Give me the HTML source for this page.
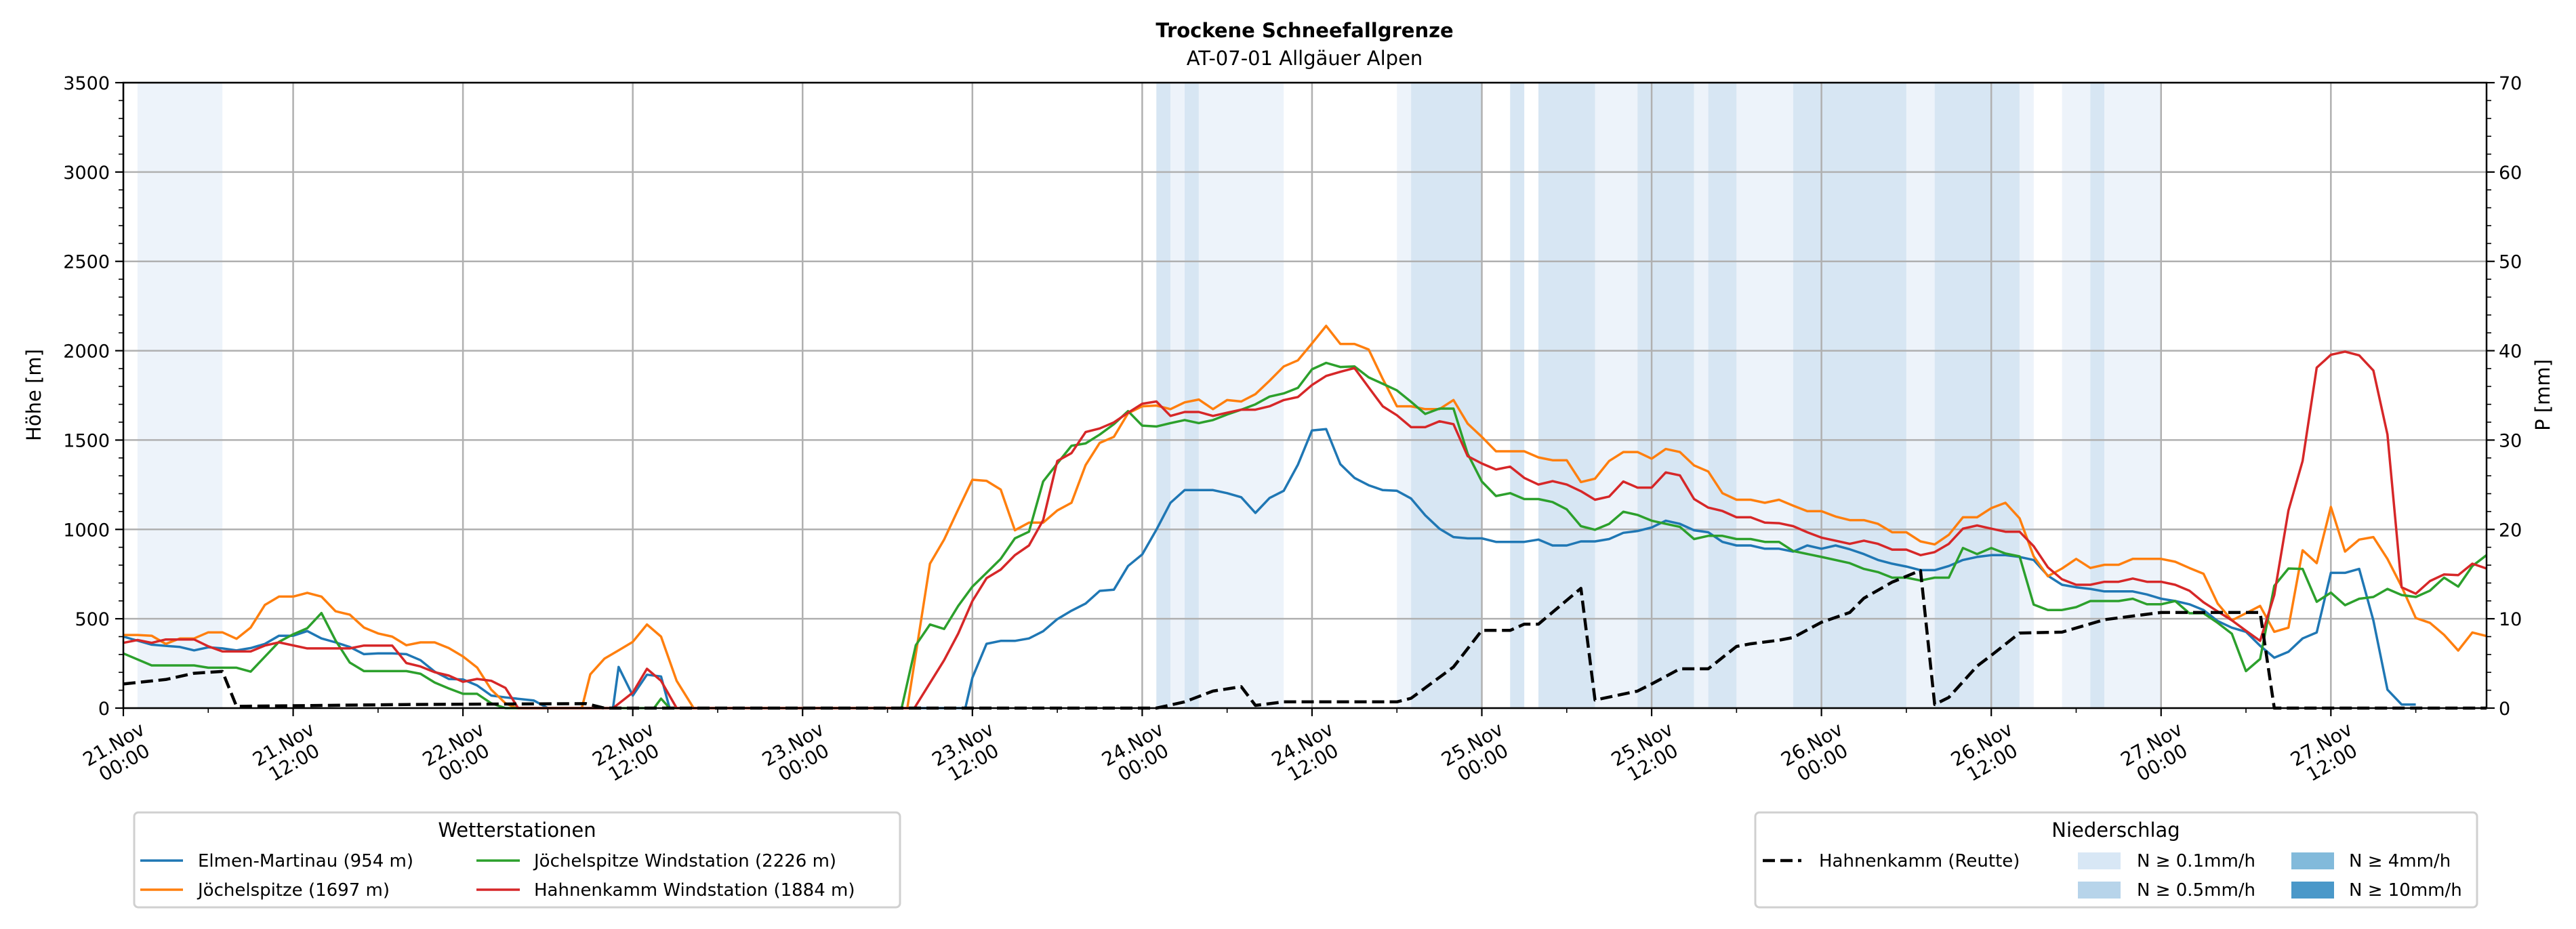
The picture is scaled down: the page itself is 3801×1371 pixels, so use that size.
<!DOCTYPE html>
<html><head><meta charset="utf-8"><style>
html,body{margin:0;padding:0;background:#fff;}
svg{display:block;font-family:"DejaVu Sans","Liberation Sans",sans-serif;}
</style></head><body>
<svg id="chart" xmlns="http://www.w3.org/2000/svg" width="3801" height="1371" viewBox="0 0 3801 1371">
<rect width="3801" height="1371" fill="#fff"/>
<text x="1925" y="55" text-anchor="middle" font-size="29" font-weight="bold">Trockene Schneefallgrenze</text>
<text x="1925" y="96" text-anchor="middle" font-size="29">AT-07-01 Allgäuer Alpen</text>
<g id="bands"></g>
<g id="grid"></g>
<g id="series"></g>
<rect x="182" y="122" width="3487" height="923" fill="none" stroke="#000" stroke-width="2.5"/>
<g id="axes"></g>
<text transform="translate(60,583) rotate(-90)" text-anchor="middle" font-size="29">Höhe [m]</text>
<text transform="translate(3762,583) rotate(-90)" text-anchor="middle" font-size="29">P [mm]</text>

<g>
<rect x="198" y="1199" width="1130" height="140" rx="6" fill="#fff" stroke="#d0d0d0" stroke-width="3"/>
<text x="763" y="1235" text-anchor="middle" font-size="29">Wetterstationen</text>
<line x1="207" y1="1270" x2="270" y2="1270" stroke="#1f77b4" stroke-width="3.5"/>
<text x="292" y="1279" font-size="26">Elmen-Martinau (954 m)</text>
<line x1="207" y1="1313" x2="270" y2="1313" stroke="#ff7f0e" stroke-width="3.5"/>
<text x="292" y="1322" font-size="26">Jöchelspitze (1697 m)</text>
<line x1="703" y1="1270" x2="767" y2="1270" stroke="#2ca02c" stroke-width="3.5"/>
<text x="788" y="1279" font-size="26">Jöchelspitze Windstation (2226 m)</text>
<line x1="703" y1="1313" x2="767" y2="1313" stroke="#d62728" stroke-width="3.5"/>
<text x="788" y="1322" font-size="26">Hahnenkamm Windstation (1884 m)</text>
</g>

<g>
<rect x="2590" y="1199" width="1065" height="140" rx="6" fill="#fff" stroke="#d0d0d0" stroke-width="3"/>
<text x="3122" y="1235" text-anchor="middle" font-size="29">Niederschlag</text>
<line x1="2601" y1="1270" x2="2658" y2="1270" stroke="#000" stroke-width="4.5" stroke-dasharray="18,8"/>
<text x="2684" y="1279" font-size="26">Hahnenkamm (Reutte)</text>
<rect x="3066" y="1258" width="63" height="25" fill="#d8e7f5"/>
<text x="3153" y="1279" font-size="26">N ≥ 0.1mm/h</text>
<rect x="3066" y="1301" width="63" height="25" fill="#b7d4ea"/>
<text x="3153" y="1322" font-size="26">N ≥ 0.5mm/h</text>
<rect x="3381" y="1258" width="63" height="25" fill="#82badb"/>
<text x="3466" y="1279" font-size="26">N ≥ 4mm/h</text>
<rect x="3381" y="1301" width="63" height="25" fill="#4a98c9"/>
<text x="3466" y="1322" font-size="26">N ≥ 10mm/h</text>
</g>
</svg>
<script>
const yTicks = [0,500,1000,1500,2000,2500,3000,3500];
const y2Ticks = [0,10,20,30,40,50,60,70];
const xTickHours = [0,12,24,36,48,60,72,84,96,108,120,132,144,156];
const xTickDay = ["21.Nov","21.Nov","22.Nov","22.Nov","23.Nov","23.Nov","24.Nov","24.Nov","25.Nov","25.Nov","26.Nov","26.Nov","27.Nov","27.Nov"];
const xTickTime = ["00:00","12:00","00:00","12:00","00:00","12:00","00:00","12:00","00:00","12:00","00:00","12:00","00:00","12:00"];

const bandStart = [1,73,74,75,76,90,91,98,100,104,107,111,112,114,118,126,128,134,137,139,140];
const bandEnd   = [7,74,75,76,82,91,96,99,104,107,111,112,114,118,126,128,134,135,139,140,144];
const bandLevel = [1,2,1,2,1,1,2,2,2,1,2,1,2,1,2,1,2,1,1,2,1];

const blueHours = [0,2,4,5,6,7,8,9,10,11,12,13,14,15,16,17,18,19,20,21,22,23,24,25,26,27,29,30,34.6,35,36,37,38,38.6,59.5,60,61,62,63,64,65,66,67,68,69,70,71,72,73,74,75,76,77,78,79,80,81,82,83,84,85,86,87,88,89,90,91,92,93,94,95,96,97,98,99,100,101,102,103,104,105,106,107,108,109,110,111,112,113,114,115,116,117,118,119,120,121,122,123,124,125,126,127,128,129,130,131,132,133,134,135,136,137,138,139,140,141,142,143,144,145,146,147,148,149,150,151,152,153,154,155,156,157,158,159,160,161,162];
const blueVals = [400,355,342,323,340,334,323,336,359,405,405,431,390,368,342,302,306,306,302,268,204,163,160,127,70,60,43,0,0,230,70,187,177,0,0,170,360,376,376,390,430,498,545,585,656,663,795,860,998,1149,1220,1220,1220,1203,1180,1092,1176,1216,1362,1554,1561,1365,1288,1247,1220,1216,1173,1079,1004,957,950,950,930,930,930,943,910,910,933,933,946,981,991,1011,1049,1031,995,984,930,910,910,892,892,876,910,892,910,889,862,829,808,792,772,772,795,829,846,856,856,846,829,741,690,676,667,653,653,653,636,612,599,581,549,487,450,427,349,282,315,390,423,757,757,779,491,103,20,20];

const orangeHours = [0,1,2,3,4,5,6,7,8,9,10,11,12,13,14,15,16,17,18,19,20,21,22,23,24,25,26,27,27.8,32.4,33,34,35,36,37,38,39.1,40.3,55.4,57,58,59,60,61,62,63,64,65,66,67,68,69,70,71,72,73,74,75,76,77,78,79,80,81,82,83,84,85,86,87,88,89,90,91,92,93,94,95,96,97,98,99,100,101,102,103,104,105,106,107,108,109,110,111,112,113,114,115,116,117,118,119,120,121,122,123,124,125,126,127,128,129,130,131,132,133,134,135,136,137,138,139,140,141,142,143,144,145,146,147,148,149,150,151,152,153,154,155,156,157,158,159,160,161,162,163,164,165,166,167];
const orangeVals = [409,409,405,359,390,390,424,424,388,451,577,624,624,645,624,542,523,451,418,400,352,368,368,336,289,227,103,27,0,0,189,277,323,371,468,400,153,0,0,808,943,1112,1278,1272,1223,995,1038,1038,1106,1149,1360,1484,1518,1650,1689,1693,1673,1711,1727,1673,1724,1716,1757,1832,1912,1946,2041,2139,2038,2038,2007,1842,1689,1689,1673,1673,1724,1592,1518,1437,1437,1437,1403,1387,1387,1265,1284,1383,1433,1433,1396,1450,1433,1358,1324,1203,1166,1166,1149,1166,1133,1102,1102,1072,1052,1052,1031,984,984,933,916,970,1068,1068,1119,1149,1062,849,738,781,835,784,802,802,835,835,835,819,784,752,585,491,531,572,427,450,883,811,1126,876,943,957,835,680,504,477,410,322,423,403];

const greenHours = [0,2,5,6,8,9,11,12,13,14,15,16,17,20,21,22,23,24,25,26,27,37.5,38,38.6,55,56,57,58,59,60,61,62,63,64,65,66,67,68,69,70,71,72,73,74,75,76,77,78,79,80,81,82,83,84,85,86,87,88,89,90,91,92,93,94,95,96,97,98,99,100,101,102,103,104,105,106,107,108,109,110,111,112,113,114,115,116,117,118,120,122,123,124,125,126,127,128,129,130,131,132,133,134,135,136,137,138,139,141,142,143,144,145,146,147,148,149,150,151,152,153,154,155,156,157,158,159,160,161,162,163,164,165,166,167];
const greenVals = [306,239,239,226,226,204,371,413,447,532,378,255,207,207,192,143,110,80,80,27,0,0,53,0,0,352,468,443,572,680,757,835,950,987,1268,1369,1468,1481,1531,1589,1662,1581,1576,1595,1612,1595,1612,1643,1670,1700,1743,1761,1792,1896,1932,1909,1912,1851,1815,1778,1714,1646,1676,1676,1423,1268,1187,1203,1170,1170,1153,1112,1018,998,1031,1099,1081,1049,1031,1014,946,964,964,946,946,930,930,879,846,811,779,761,730,730,714,730,730,896,862,896,865,849,579,549,549,565,599,599,612,581,581,599,531,531,477,416,207,275,684,781,779,595,646,576,612,622,667,633,622,657,730,680,795,856];

const redHours = [0,1,2,3,5,6,7,9,10,11,13,16,17,19,20,21,22,23,24,25,26,27,27.9,34.6,36,37,38,39.1,55.9,58,59,60,61,62,63,64,65,66,67,68,69,70,71,72,73,74,75,76,77,78,79,80,81,82,83,84,85,86,87,88,89,90,91,92,93,94,95,96,97,98,99,100,101,102,103,104,105,106,107,108,109,110,111,112,113,114,115,116,117,118,119,120,121,122,123,124,125,126,127,128,129,130,131,132,133,134,135,136,137,138,139,140,141,142,143,144,145,146,147,148,149,150,151,152,153,154,155,156,157,158,159,160,161,162,163,164,165,166,167];
const redVals = [365,381,365,384,384,346,317,317,350,368,334,334,350,350,252,233,201,182,147,163,153,113,0,0,87,220,153,0,0,268,417,599,727,775,856,910,1052,1383,1427,1545,1565,1599,1653,1703,1716,1635,1657,1657,1635,1653,1670,1670,1689,1724,1741,1808,1859,1882,1903,1795,1689,1639,1572,1572,1605,1589,1410,1369,1335,1351,1288,1251,1270,1251,1214,1166,1184,1268,1234,1234,1319,1302,1170,1122,1103,1068,1068,1038,1035,1018,984,954,937,919,937,919,887,887,856,873,919,1004,1022,1004,987,987,906,788,721,690,690,707,707,725,707,707,690,657,592,541,491,433,376,633,1106,1383,1905,1977,1995,1974,1889,1531,676,640,711,748,744,808,781];

const precipHours = [0,3,5,7,8,20,32.7,34,73,75,77,79,80,82,90,91,94,96,98,99,100,103,104,107,108,110,112,114,115,117,118,120,122,123,125,127,128,129,131,132,134,137,140,144,151,152,167];
const precipVals = [2.7,3.2,3.9,4.1,0.2,0.4,0.5,0,0,0.7,1.9,2.4,0.3,0.7,0.7,1.1,4.6,8.7,8.7,9.4,9.4,13.4,0.9,1.9,2.7,4.4,4.4,6.9,7.2,7.6,7.9,9.6,10.7,12.3,14.1,15.4,0.4,1.2,4.7,5.9,8.4,8.5,9.9,10.7,10.7,0,0];

const NS = "http://www.w3.org/2000/svg";
const X0 = 182, X1 = 3669, Y0 = 1045, Y1 = 122;
const HMAX = 167, VMAX = 3500, PMAX = 70;
function xScale(h){ return X0 + (X1 - X0) * h / HMAX; }
function yScale(v){ return Y0 - (Y0 - Y1) * v / VMAX; }
function y2Scale(p){ return Y0 - (Y0 - Y1) * p / PMAX; }
function mk(tag, attrs, parent){
  const el = document.createElementNS(NS, tag);
  for (const k in attrs) el.setAttribute(k, attrs[k]);
  parent.appendChild(el);
  return el;
}

const bandsG = document.getElementById('bands');
const bandColors = ["", "#edf3fa", "#d7e6f3", "#b7d4ea", "#82badb"];
bandStart.forEach((s, i) => {
  const r = mk('rect', {x: xScale(s), y: Y1, width: xScale(bandEnd[i]) - xScale(s), height: Y0 - Y1, fill: bandColors[bandLevel[i]]}, bandsG);
  
  
});

const gridG = document.getElementById('grid');
yTicks.forEach(v => {
  const l = mk('line', {x1: X0, x2: X1, y1: yScale(v), y2: yScale(v), stroke: '#b0b0b0', 'stroke-width': 2.5}, gridG);
  
  
});
xTickHours.forEach(h => {
  const l = mk('line', {x1: xScale(h), x2: xScale(h), y1: Y1, y2: Y0, stroke: '#b0b0b0', 'stroke-width': 2.5}, gridG);
  
  
});

const seriesG = document.getElementById('series');
function drawLine(hours, vals, scale, color, width, dash, name){
  const pts = hours.map((h, i) => xScale(h).toFixed(1) + ',' + scale(vals[i]).toFixed(1)).join(' ');
  const attrs = {points: pts, fill: 'none', stroke: color, 'stroke-width': width, 'stroke-linejoin': 'round'};
  if (dash) attrs['stroke-dasharray'] = dash;
  const p = mk('polyline', attrs, seriesG);
  
  
}
drawLine(blueHours, blueVals, yScale, '#1f77b4', 3.5, null, 'line-elmen-martinau');
drawLine(orangeHours, orangeVals, yScale, '#ff7f0e', 3.5, null, 'line-joechelspitze');
drawLine(greenHours, greenVals, yScale, '#2ca02c', 3.5, null, 'line-joechelspitze-windstation');
drawLine(redHours, redVals, yScale, '#d62728', 3.5, null, 'line-hahnenkamm-windstation');
drawLine(precipHours, precipVals, y2Scale, '#000', 4.5, '18,8', 'line-hahnenkamm-reutte-precip');

const axesG = document.getElementById('axes');
yTicks.forEach(v => {
  const y = yScale(v);
  const t = mk('line', {x1: X0 - 12, x2: X0, y1: y, y2: y, stroke: '#000', 'stroke-width': 2.2}, axesG);
  
  
  const lab = mk('text', {x: X0 - 20, y: y + 10, 'text-anchor': 'end', 'font-size': 27}, axesG);
  lab.textContent = v;
  
  
});
for (let v = 0; v <= VMAX; v += 100) {
  if (v % 500 === 0) continue;
  const y = yScale(v);
  const m = mk('line', {x1: X0 - 7, x2: X0, y1: y, y2: y, stroke: '#000', 'stroke-width': 1.6}, axesG);
  
  
  const m2 = mk('line', {x1: X1, x2: X1 + 7, y1: y, y2: y, stroke: '#000', 'stroke-width': 1.6}, axesG);
  
  
}
y2Ticks.forEach(p => {
  const y = y2Scale(p);
  const t = mk('line', {x1: X1, x2: X1 + 12, y1: y, y2: y, stroke: '#000', 'stroke-width': 2.2}, axesG);
  
  
  const lab = mk('text', {x: X1 + 18, y: y + 10, 'text-anchor': 'start', 'font-size': 27}, axesG);
  lab.textContent = p;
  
  
});
for (let h = 6; h < HMAX; h += 12) {
  const m = mk('line', {x1: xScale(h), x2: xScale(h), y1: Y0, y2: Y0 + 7, stroke: '#000', 'stroke-width': 1.6}, axesG);
  
  
}
xTickHours.forEach((h, i) => {
  const x = xScale(h);
  const t = mk('line', {x1: x, x2: x, y1: Y0, y2: Y0 + 12, stroke: '#000', 'stroke-width': 2.2}, axesG);
  
  
  const g = mk('g', {transform: 'translate(' + (x + 22) + ',' + (Y0 + 16) + ') rotate(-30)'}, axesG);
  
  
  const t1 = mk('text', {x: -50, y: 24, 'text-anchor': 'middle', 'font-size': 28}, g);
  t1.textContent = xTickDay[i];
  
  
  const t2 = mk('text', {x: -50, y: 55, 'text-anchor': 'middle', 'font-size': 28}, g);
  t2.textContent = xTickTime[i];
  
  
});
</script>
</body></html>
